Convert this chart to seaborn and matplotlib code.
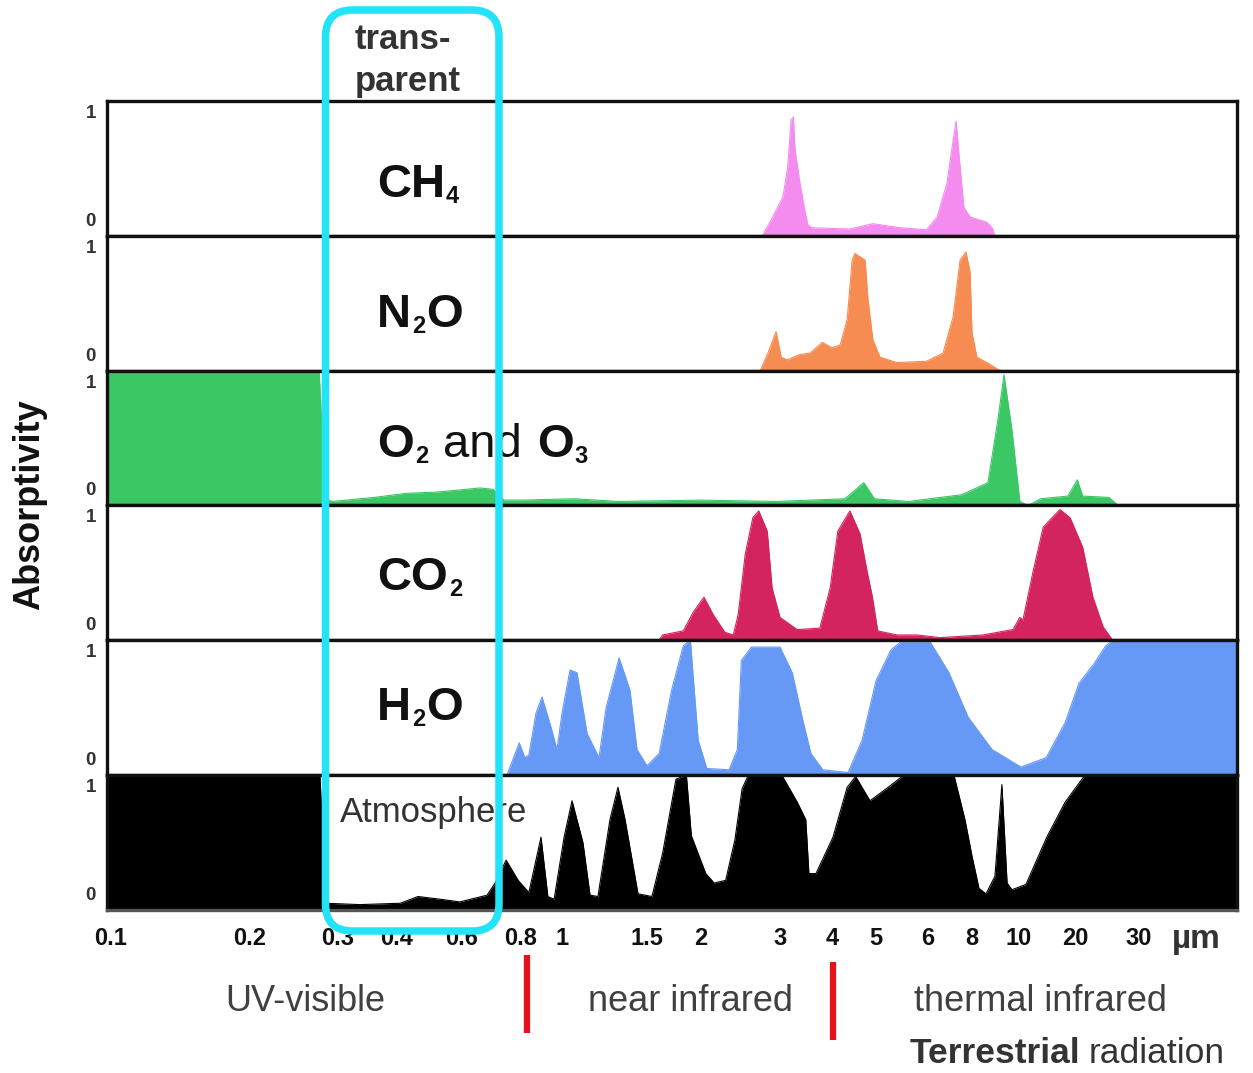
import numpy as np
import matplotlib
matplotlib.use("Agg")
import matplotlib.pyplot as plt
from matplotlib.patches import FancyBboxPatch
from matplotlib.lines import Line2D
from matplotlib.ticker import NullLocator
from matplotlib.transforms import ScaledTranslation
import seaborn as sns

# ---------------- data (wavelength in µm, absorptivity 0..1) ----------------
CH4_UM = [2.74, 2.89, 3.05, 3.13, 3.19, 3.23, 3.26, 3.35, 3.44, 3.50, 3.58, 4.38, 4.92, 5.44,
          5.97, 6.37, 6.79, 7.07, 7.21, 7.40, 7.59, 7.90, 8.59, 8.80, 8.92]
CH4_ABS = [0.0, 0.14, 0.29, 0.51, 0.86, 0.88, 0.64, 0.39, 0.19, 0.08, 0.06, 0.05, 0.09, 0.06,
           0.045, 0.14, 0.39, 0.71, 0.85, 0.51, 0.21, 0.14, 0.10, 0.06, 0.0]

N2O_UM = [2.71, 2.82, 2.94, 3.02, 3.12, 3.35, 3.54, 3.79, 4.0, 4.17, 4.32, 4.43, 4.49, 4.73,
          4.80, 4.92, 5.07, 5.38, 5.97, 6.62, 7.07, 7.40, 7.69, 7.90, 8.0, 8.19, 8.59, 9.14]
N2O_ABS = [0.0, 0.13, 0.29, 0.10, 0.08, 0.12, 0.13, 0.21, 0.17, 0.19, 0.38, 0.82, 0.87, 0.82,
           0.53, 0.23, 0.10, 0.06, 0.07, 0.13, 0.40, 0.82, 0.88, 0.73, 0.28, 0.10, 0.06, 0.0]

O2O3_UM = [0.098, 0.275, 0.283, 0.292, 0.358, 0.423, 0.516, 0.655, 0.698, 0.736, 0.804, 1.06,
           1.31, 2.01, 2.93, 4.27, 4.70, 4.96, 5.61, 7.49, 8.63, 9.05, 9.31, 9.67, 10.1, 11.2,
           13.1, 18.3, 20.3, 21.0, 24.8, 26.3]
O2O3_ABS = [1.0, 1.0, 0.05, 0.03, 0.06, 0.09, 0.10, 0.13, 0.12, 0.04, 0.04, 0.05,
            0.03, 0.04, 0.03, 0.05, 0.17, 0.05, 0.03, 0.08, 0.17, 0.64, 0.97, 0.56, 0.03, 0.0,
            0.05, 0.07, 0.19, 0.07, 0.06, 0.0]

CO2_UM = [1.60, 1.63, 1.82, 1.92, 2.03, 2.13, 2.26, 2.36, 2.42, 2.51, 2.61, 2.69, 2.81, 2.88,
          3.0, 3.30, 3.74, 3.96, 4.12, 4.38, 4.61, 4.78, 4.91, 5.03, 5.38, 5.77, 6.49, 8.43,
          9.72, 10.1, 10.5, 11.9, 13.5, 16.6, 18.8, 21.0, 22.4, 23.9, 25.4]
CO2_ABS = [0.0, 0.04, 0.07, 0.21, 0.32, 0.19, 0.06, 0.04, 0.19, 0.64, 0.91, 0.96, 0.81, 0.39,
           0.17, 0.08, 0.09, 0.39, 0.81, 0.96, 0.79, 0.51, 0.32, 0.07, 0.04, 0.04, 0.02, 0.04,
           0.08, 0.17, 0.15, 0.51, 0.84, 0.97, 0.91, 0.69, 0.32, 0.10, 0.0]

H2O_UM = [0.747, 0.793, 0.817, 0.835, 0.868, 0.897, 0.941, 0.973, 1.0, 1.039, 1.074, 1.127,
          1.193, 1.234, 1.313, 1.383, 1.430, 1.5, 1.60, 1.71, 1.82, 1.89, 1.97, 2.06, 2.31,
          2.41, 2.46, 2.59, 3.0, 3.21, 3.39, 3.56, 3.80, 4.34, 4.66, 5.0, 5.27, 5.46, 6.08,
          6.88, 7.80, 8.80, 10.25, 14.0, 17.7, 20.5, 22.6, 24.3, 25.4, 55]
H2O_ABS = [0.0, 0.24, 0.13, 0.15, 0.46, 0.58, 0.36, 0.19, 0.46, 0.78, 0.76, 0.31,
           0.13, 0.50, 0.87, 0.63, 0.19, 0.07, 0.16, 0.63, 0.96, 1.0, 0.26, 0.05, 0.04,
           0.19, 0.85, 0.95, 0.95, 0.76, 0.43, 0.16, 0.04, 0.02, 0.26, 0.70, 0.93, 0.99, 0.99,
           0.76, 0.43, 0.19, 0.06, 0.13, 0.39, 0.68, 0.83, 0.96, 1.0, 1.0]

ATM_UM = [0.098, 0.276, 0.284, 0.334, 0.408, 0.456, 0.523, 0.592, 0.678, 0.705, 0.744, 0.789,
          0.835, 0.892, 0.926, 0.958, 1.01, 1.049, 1.105, 1.143, 1.187, 1.257, 1.306, 1.351,
          1.437, 1.54, 1.63, 1.75, 1.85, 1.90, 2.05, 2.14, 2.27, 2.38, 2.47, 2.55, 3.03, 3.30,
          3.46, 3.52, 3.66, 4.02, 4.32, 4.51, 4.85, 5.25, 5.51, 7.11, 7.64, 8.0, 8.27, 8.55,
          8.92, 9.22, 9.45, 9.67, 10.9, 14.1, 17.7, 21.3, 55]
ATM_ABS = [1.0, 1.0, 0.05, 0.04, 0.05, 0.10, 0.08, 0.06, 0.11, 0.20, 0.37, 0.22,
           0.13, 0.54, 0.10, 0.08, 0.54, 0.81, 0.50, 0.11, 0.10, 0.67, 0.91, 0.67,
           0.12, 0.10, 0.42, 0.97, 1.0, 0.55, 0.27, 0.20, 0.22, 0.52, 0.90, 1.0, 1.0, 0.80,
           0.67, 0.27, 0.27, 0.54, 0.91, 0.99, 0.81, 0.92, 1.0, 1.0, 0.67, 0.40, 0.16, 0.12,
           0.25, 0.93, 0.20, 0.15, 0.19, 0.54, 0.80, 1.0, 1.0]

TICK_UM = [0.1, 0.2, 0.3, 0.4, 0.6, 0.8, 1, 1.5, 2, 3, 4, 5, 6, 8, 10, 20, 30]
TICK_LABELS = ["0.1", "0.2", "0.3", "0.4", "0.6", "0.8", "1", "1.5", "2", "3", "4", "5",
               "6", "8", "10", "20", "30"]

# ---------------- axis scale of the original figure (warped log axis) ----------------
SCALE_UM = [0.098] + TICK_UM + [55]
SCALE_POS = [107, 111, 250, 338, 397, 462, 521, 562, 647, 701, 780, 832, 876, 928, 972,
             1019, 1075, 1139, 1237]
_klog = np.log10(SCALE_UM)
_kpos = np.asarray(SCALE_POS, float)


def fwd(x):
    x = np.clip(np.asarray(x, float), 1e-6, None)
    return np.interp(np.log10(x), _klog, _kpos)


def inv(p):
    return 10 ** np.interp(np.asarray(p, float), _kpos, _klog)


# ---------------- styling ----------------
sns.set_theme(style="white")
plt.rcParams['font.family'] = ['Liberation Sans', 'DejaVu Sans']

W, H = 1253, 1073
fig = plt.figure(figsize=(W / 100, H / 100), dpi=100)
fig.patch.set_facecolor("white")
gs = fig.add_gridspec(6, 1, left=107 / W, right=1237 / W, top=1 - 101 / H,
                      bottom=1 - 910 / H, hspace=0)

panels = [
    (CH4_UM, CH4_ABS, "#F48CF0"),
    (N2O_UM, N2O_ABS, "#F78C52"),
    (O2O3_UM, O2O3_ABS, "#3CC765"),
    (CO2_UM, CO2_ABS, "#D4245F"),
    (H2O_UM, H2O_ABS, "#6699F5"),
    (ATM_UM, ATM_ABS, "#000000"),
]

axes = []
for i, (xs, ys, col) in enumerate(panels):
    ax = fig.add_subplot(gs[i])
    ax.set_xscale("function", functions=(fwd, inv))
    ax.fill_between(xs, 0, ys, color=col, lw=0, zorder=1)
    sns.lineplot(x=xs, y=ys, color=col, lw=0.8, ax=ax, legend=False, zorder=2)
    ax.set_xlim(0.098, 55)
    ax.set_ylim(0, 1)
    ax.set_facecolor("white")
    for s in ax.spines.values():
        s.set_visible(True)
        s.set_color("#111111")
        s.set_linewidth(2.4)
    ax.set_yticks([0, 1])
    ax.set_yticklabels(["0", "1"], fontsize=13.5, fontweight="bold", color="#333333")
    ax.tick_params(axis="y", length=0, pad=8, left=False)
    ax.set_ylabel("")
    ax.set_xlabel("")
    if i < 5:
        ax.xaxis.set_major_locator(NullLocator())
        ax.xaxis.set_minor_locator(NullLocator())
    else:
        ax.set_xticks(TICK_UM)
        ax.set_xticklabels(TICK_LABELS, fontsize=17, fontweight="bold", color="#111111")
        ax.xaxis.set_minor_locator(NullLocator())
        ax.tick_params(axis="x", length=0, pad=12, bottom=False)
        ax.spines["bottom"].set_color("#555555")
    axes.append(ax)

# nudge the 0 / 1 labels inward like the original
for ax in axes:
    labs = ax.get_yticklabels()
    labs[0].set_va("bottom")
    labs[0].set_transform(labs[0].get_transform()
                          + ScaledTranslation(0, 6 / 100, fig.dpi_scale_trans))
    labs[1].set_va("top")
    labs[1].set_transform(labs[1].get_transform()
                          + ScaledTranslation(0, -4 / 100, fig.dpi_scale_trans))


def px(x, y):
    return x / W, 1 - y / H


renderer = fig.canvas.get_renderer()


def chem(x0, yb, parts, size=34, sub_size=17, sub_drop=6, color="#111111"):
    """Write a formula piece by piece: (text, kind, gap_before_px);
    kind 'b' = bold, 'r' = regular, 's' = bold subscript."""
    cur = x0
    for txt, kind, gap in parts:
        cur += gap
        if kind == "s":
            t = fig.text(*px(cur, yb + sub_drop), txt, fontsize=sub_size, fontweight="bold",
                         color=color, ha="left", va="baseline")
        else:
            t = fig.text(*px(cur, yb), txt, fontsize=size,
                         fontweight="bold" if kind == "b" else "normal",
                         color=color, ha="left", va="baseline")
        cur = t.get_window_extent(renderer).x1


chem(377, 197, [("CH", "b", 0), ("4", "s", 1)])
chem(377, 327, [("N", "b", 0), ("2", "s", 1), ("O", "b", 1)])
chem(377, 457, [("O", "b", 0), ("2", "s", 1), ("and", "r", 15), ("O", "b", 15), ("3", "s", 1)])
chem(377, 590, [("CO", "b", 0), ("2", "s", 1)])
chem(377, 720, [("H", "b", 0), ("2", "s", 1), ("O", "b", 1)])

fig.text(*px(340, 822), "Atmosphere", fontsize=25, color="#333333", ha="left", va="baseline",
         zorder=20)

fig.text(*px(355, 49), "trans-", fontsize=25, fontweight="bold", color="#333333",
         ha="left", va="baseline")
fig.text(*px(355, 91), "parent", fontsize=25, fontweight="bold", color="#333333",
         ha="left", va="baseline")

fig.text(*px(30, 505), "Absorptivity", fontsize=26, fontweight="bold", rotation=90,
         color="#111111", ha="center", va="center")

fig.text(*px(1172, 948), "µm", fontsize=24, fontweight="bold", color="#333333",
         ha="left", va="baseline")

fig.text(*px(305, 1011), "UV-visible", fontsize=26, color="#404040", ha="center", va="baseline")
fig.text(*px(690, 1011), "near infrared", fontsize=26, color="#404040", ha="center", va="baseline")
fig.text(*px(1040, 1011), "thermal infrared", fontsize=26, color="#404040", ha="center",
         va="baseline")
t_terr = fig.text(*px(910, 1063), "Terrestrial", fontsize=25.5, fontweight="bold",
                  color="#333333", ha="left", va="baseline")
x_terr = t_terr.get_window_extent(renderer).x1
fig.text(*px(x_terr + 8, 1063), "radiation", fontsize=25.5, color="#333333", ha="left",
         va="baseline")

# red separators
for xr, y0, y1 in [(527, 955, 1033), (833, 962, 1040)]:
    fig.add_artist(Line2D([xr / W, xr / W], [1 - y0 / H, 1 - y1 / H], transform=fig.transFigure,
                          color="#E5121E", lw=4.5, solid_capstyle="butt"))

# cyan "transparent" window box (in inches)
box = FancyBboxPatch((3.255, 1.42), 4.99 - 3.255, 10.63 - 1.42,
                     boxstyle="round,pad=0,rounding_size=0.27",
                     transform=fig.dpi_scale_trans, fill=False, ec="#22E3F8", lw=5.4, zorder=30)
fig.add_artist(box)

fig.savefig("out.png", dpi=100, facecolor="white")
